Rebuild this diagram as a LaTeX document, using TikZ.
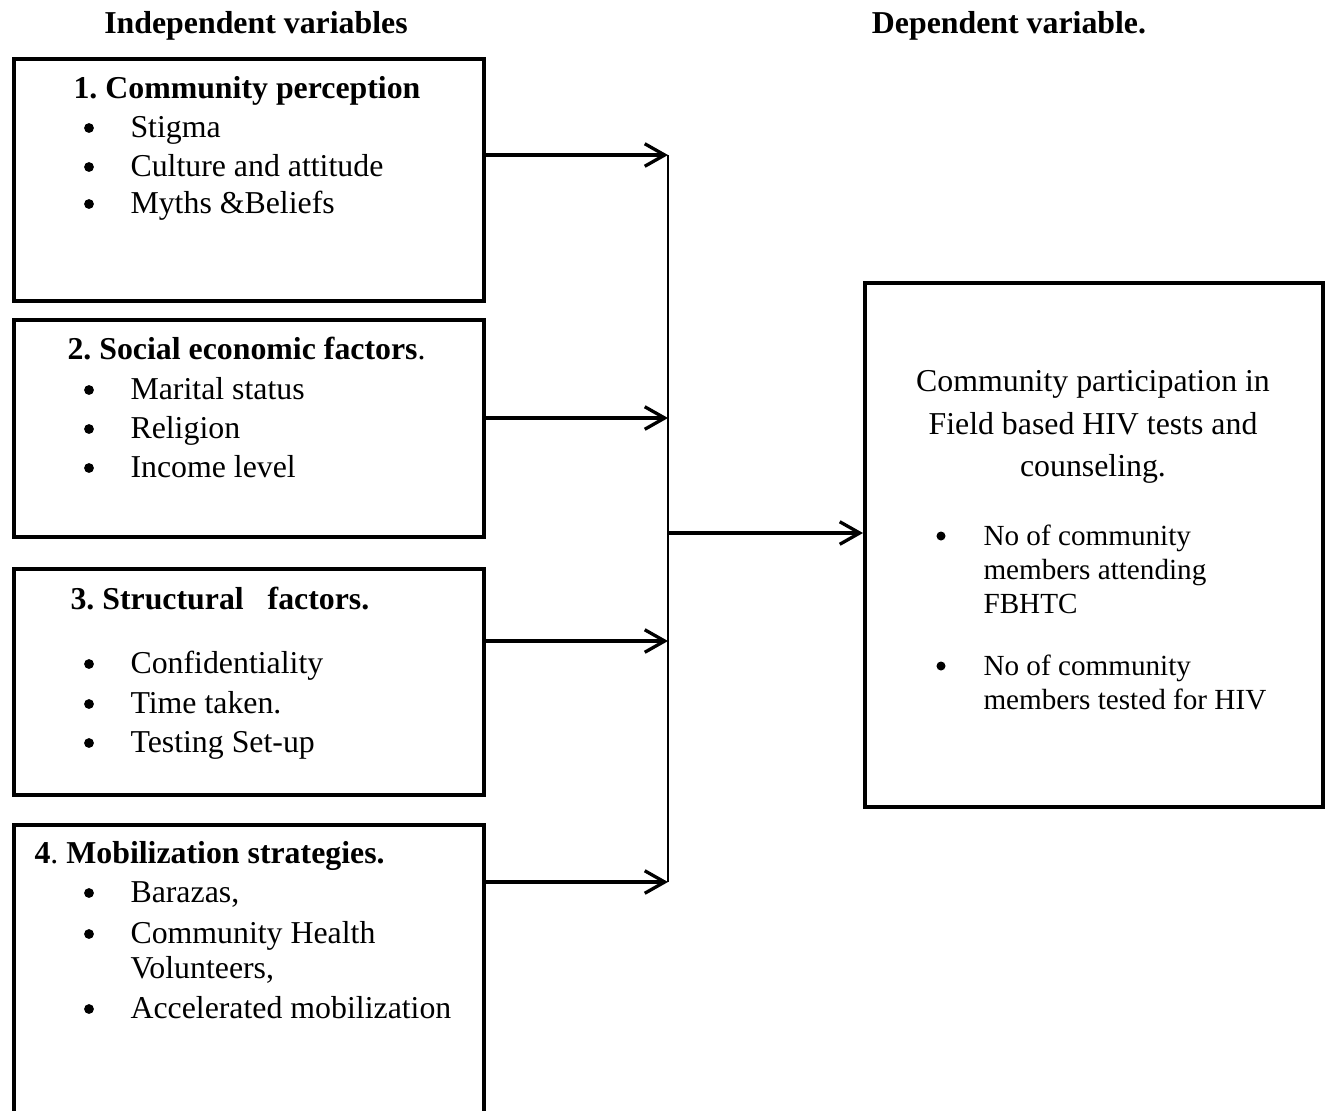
\documentclass[tikz,border=0pt]{standalone}
\usepackage{fontspec}
\setmainfont{Liberation Serif}
\usetikzlibrary{positioning, arrows.meta}
\frenchspacing

\begin{document}
\begin{tikzpicture}[x=0.377pt, y=-0.377pt,
    box/.style={draw, line width=1.45pt, anchor=north west, inner sep=0pt},
    txt/.style={anchor=base west, inner sep=0pt, font=\fontsize{12}{14}\selectfont},
    smalltxt/.style={anchor=base west, inner sep=0pt, font=\fontsize{11}{13}\selectfont},
    head/.style={anchor=base, inner sep=0pt, font=\fontsize{12}{14}\selectfont\bfseries},
    ctr/.style={anchor=base, inner sep=0pt, font=\fontsize{12}{14}\selectfont},
    dot/.style={circle, fill, inner sep=0pt, minimum size=3.7pt},
    smalldot/.style={circle, fill, inner sep=0pt, minimum size=3.4pt},
    arr/.style={line width=1.25pt, -{Straight Barb[length=7.5pt, width=8.5pt, line width=1.25pt]}}]
    \clip (0,0) rectangle (1325,1110);

    % Headings
    \node[head] (indep) at (256,33) {Independent variables};
    \node[head] (dep) at (1009,33) {Dependent variable.};

    % Boxes
    \node[box, minimum width=177.2pt, minimum height=91.2pt] (box1) at (12,57) {};
    \node[box, minimum width=177.2pt, minimum height=81.8pt] (box2) at (12,318) {};
    \node[box, minimum width=177.2pt, minimum height=85.2pt] (box3) at (12,567) {};
    \node[box, minimum width=177.2pt, minimum height=115.7pt] (box4) at (12,823) {};
    \node[box, minimum width=172.7pt, minimum height=197.5pt] (outcome) at (863,281) {};

    % Box 1
    \node[txt, font=\fontsize{12}{14}\selectfont\bfseries] (title1) at (73,98) {1. Community perception};
    \node[dot] (d1a) at (89,128) {};
    \node[txt] (i1a) at (130,137) {Stigma};
    \node[dot] (d1b) at (89,167) {};
    \node[txt] (i1b) at (130,176) {Culture and attitude};
    \node[dot] (d1c) at (89,204) {};
    \node[txt] (i1c) at (130,213) {Myths \&Beliefs};

    % Box 2
    \node[txt] (title2) at (67,359) {\textbf{2. Social economic factors}.};
    \node[dot] (d2a) at (89,390) {};
    \node[txt] (i2a) at (130,399) {Marital status};
    \node[dot] (d2b) at (89,429) {};
    \node[txt] (i2b) at (130,438) {Religion};
    \node[dot] (d2c) at (89,468) {};
    \node[txt] (i2c) at (130,477) {Income level};

    % Box 3
    \node[txt, font=\fontsize{12}{14}\selectfont\bfseries] (title3) at (70,609) {3. Structural\ \ \ factors.};
    \node[dot] (d3a) at (89,664) {};
    \node[txt] (i3a) at (130,673) {Confidentiality};
    \node[dot] (d3b) at (89,704) {};
    \node[txt] (i3b) at (130,713) {Time taken.};
    \node[dot] (d3c) at (89,743) {};
    \node[txt] (i3c) at (130,752) {Testing Set-up};

    % Box 4
    \node[txt] (title4) at (34,863) {\textbf{4}. \textbf{Mobilization strategies.}};
    \node[dot] (d4a) at (89,893) {};
    \node[txt] (i4a) at (130,902) {Barazas,};
    \node[dot] (d4b) at (89,934) {};
    \node[txt] (i4b) at (130,943) {Community Health};
    \node[txt] (i4c) at (130,978) {Volunteers,};
    \node[dot] (d4d) at (89,1009) {};
    \node[txt] (i4d) at (130,1018) {Accelerated mobilization};

    % Outcome box
    \node[ctr] (o1) at (1093,391) {Community participation in};
    \node[ctr] (o2) at (1093,434) {Field based HIV tests and};
    \node[ctr] (o3) at (1093,476) {counseling.};
    \node[smalldot] (do1) at (941,536) {};
    \node[smalltxt] (oa1) at (983,545) {No of community};
    \node[smalltxt] (oa2) at (983,579) {members attending};
    \node[smalltxt] (oa3) at (983,613) {FBHTC};
    \node[smalldot] (do2) at (941,666) {};
    \node[smalltxt] (ob1) at (983,675) {No of community};
    \node[smalltxt] (ob2) at (983,709) {members tested for HIV};

    % Connectors
    \coordinate (bus1) at (668,155);
    \coordinate (bus2) at (668,418);
    \coordinate (bus3) at (668,641);
    \coordinate (bus4) at (668,882);
    \coordinate (busmid) at (668,533);
    \draw[arr] (box1.east |- bus1) -- (bus1);
    \draw[arr] (box2.east |- bus2) -- (bus2);
    \draw[arr] (box3.east |- bus3) -- (bus3);
    \draw[arr] (box4.east |- bus4) -- (bus4);
    \draw[line width=0.4pt] (bus1) -- (bus4);
    \draw[arr] (busmid) -- (outcome.west |- busmid);
\end{tikzpicture}
\end{document}
